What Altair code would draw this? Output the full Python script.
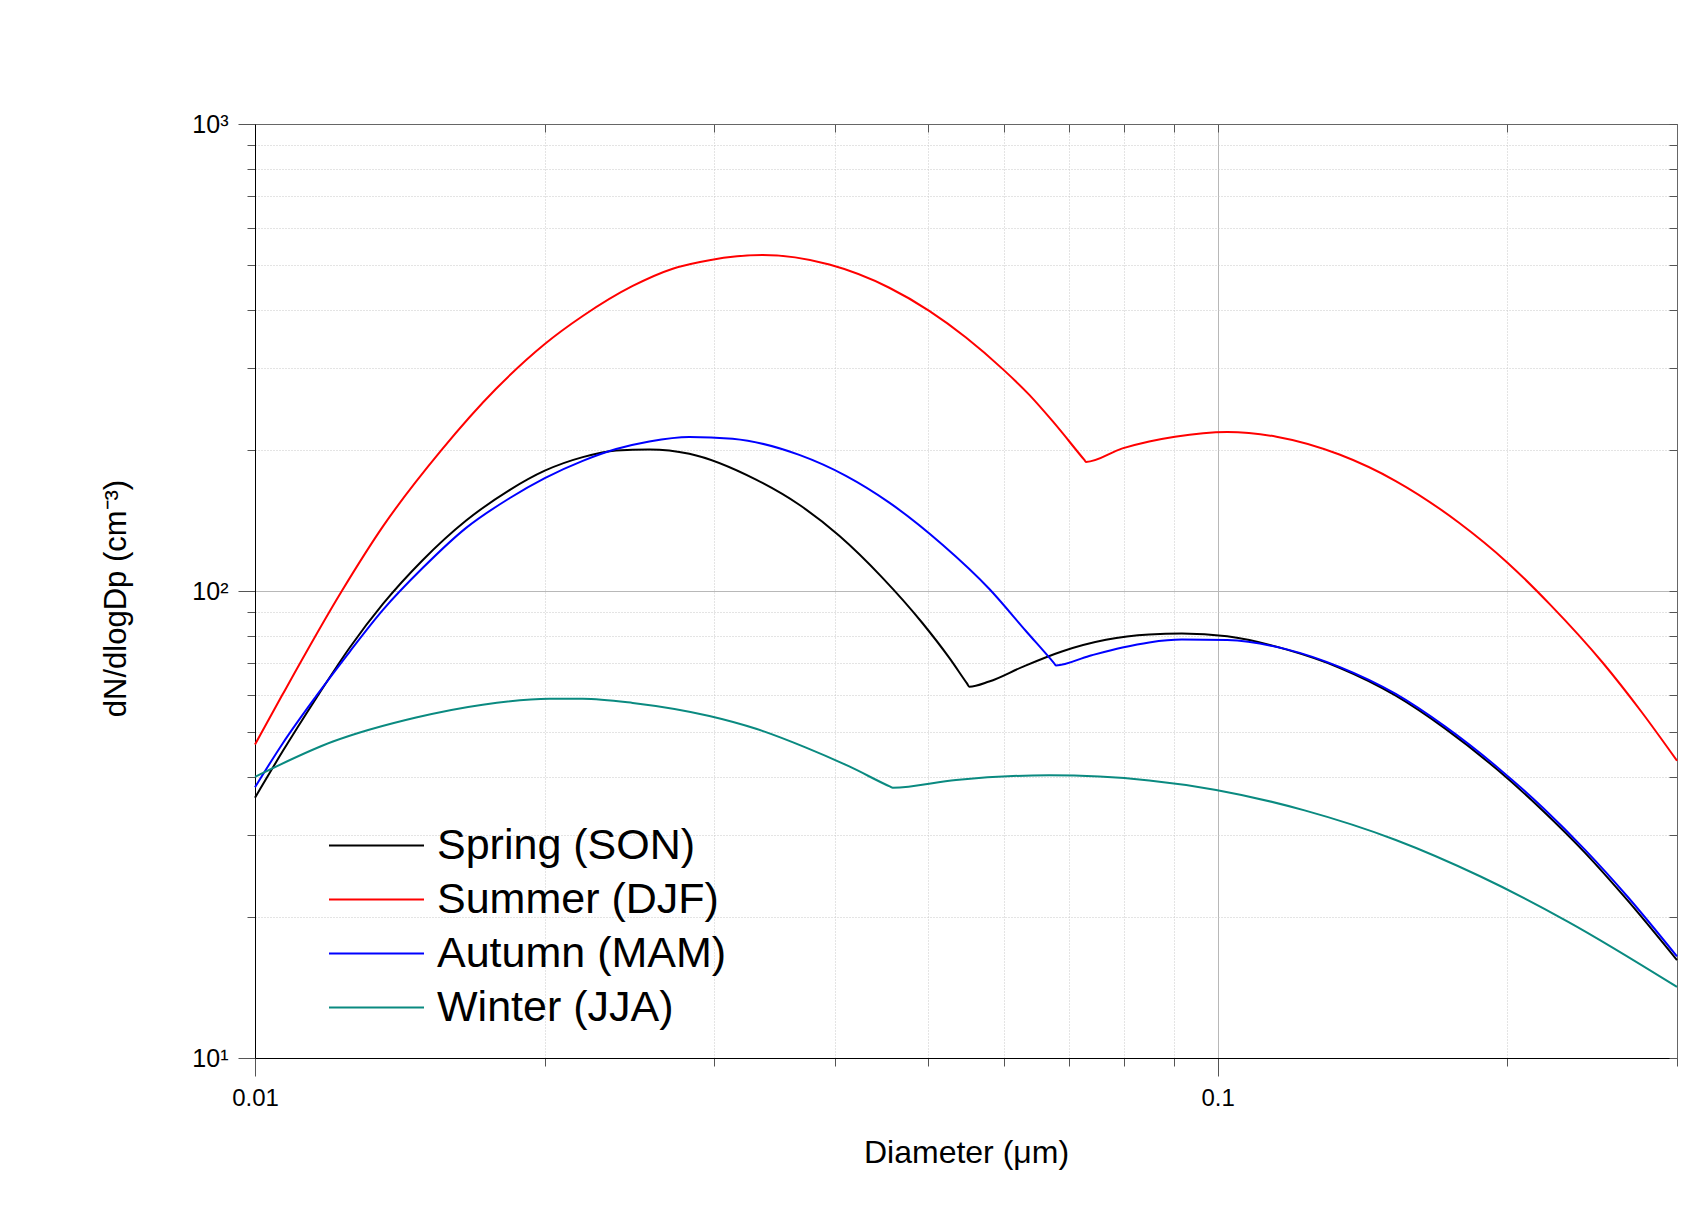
import altair as alt
import pandas as pd

FONT = "Liberation Sans"

seasons = ["Spring (SON)", "Summer (DJF)", "Autumn (MAM)", "Winter (JJA)"]
colors = ["#000000", "#ff0000", "#0000ff", "#0a8a80"]

spring_d = [0.0100, 0.01068, 0.01158, 0.01254, 0.01358, 0.01494, 0.01657, 0.01838, 0.0200, 0.0219,
            0.02372, 0.02568, 0.02826, 0.03315, 0.03676, 0.04045, 0.04486, 0.04937, 0.05263, 0.05490,
            0.05520, 0.05789, 0.06271, 0.06901, 0.07655, 0.08489, 0.09179, 0.1023, 0.1180, 0.1338,
            0.1531, 0.1722, 0.1953, 0.2178, 0.2408, 0.2663, 0.3000]
spring_n = [36.1, 45.3, 59.0, 75.6, 93.8, 116.5, 141.5, 164.5, 181.0, 193.5,
            200.0, 201.0, 196.8, 173.2, 153.0, 131.3, 106.7, 85.3, 71.9, 63.4,
            62.4, 64.0, 68.8, 74.3, 78.6, 80.7, 81.1, 80.0, 74.9, 68.5,
            59.7, 50.8, 41.4, 33.8, 27.5, 21.8, 16.2]

summer_d = [0.0100, 0.01068, 0.01229, 0.01358, 0.01561, 0.01780, 0.0200, 0.02190, 0.02468, 0.02716,
            0.02965, 0.03367, 0.03950, 0.04559, 0.05016, 0.05477, 0.05977, 0.06373, 0.06738, 0.07270,
            0.07298, 0.07963, 0.08489, 0.09028, 0.1023, 0.1151, 0.1338, 0.1531, 0.1781, 0.2000,
            0.2215, 0.2512, 0.2754, 0.3000]
summer_n = [46.9, 60.0, 99.5, 137.5, 200.0, 271.0, 338.0, 388.0, 450.0, 490.0,
            511.0, 524.0, 500.0, 446.0, 398.0, 349.0, 299.0, 263.0, 231.0, 190.8,
            189.0, 202.0, 209.0, 214.0, 219.0, 214.0, 196.0, 172.0, 140.0, 115.0,
            93.5, 70.2, 55.2, 43.3]

autumn_d = [0.0100, 0.01068, 0.01158, 0.01254, 0.01358, 0.01494, 0.01657, 0.01838, 0.0200, 0.0219,
            0.02372, 0.02568, 0.02826, 0.03134, 0.03676, 0.04110, 0.04559, 0.05178, 0.05789, 0.06321,
            0.06760, 0.06792, 0.07354, 0.07963, 0.08489, 0.09179, 0.1023, 0.1180, 0.1338, 0.1531,
            0.1722, 0.1953, 0.2178, 0.2408, 0.2663, 0.3000]
autumn_n = [38.0, 47.1, 59.6, 74.1, 91.1, 112.1, 136.5, 158.0, 174.5, 190.0,
            201.4, 209.1, 213.8, 211.8, 195.6, 176.4, 154.6, 125.6, 101.1, 82.1,
            70.1, 69.3, 72.6, 75.7, 77.6, 78.7, 78.5, 75.0, 68.8, 60.2,
            51.3, 41.9, 34.3, 27.9, 22.2, 16.5]

winter_d = [0.0100, 0.01205, 0.01470, 0.01724, 0.02022, 0.0219, 0.02468, 0.02965, 0.03315, 0.03736,
            0.04143, 0.04570, 0.04596, 0.05348, 0.06683, 0.08489, 0.09963, 0.1231, 0.1531, 0.1873,
            0.2310, 0.3000]
winter_n = [40.0, 47.6, 53.6, 57.1, 58.8, 58.8, 57.6, 54.0, 50.7, 46.2,
            42.1, 38.1, 37.9, 39.4, 40.3, 39.3, 37.5, 33.9, 29.3, 24.5,
            19.6, 14.2]

x_major = [0.01, 0.1]
x_minor = [0.02, 0.03, 0.04, 0.05, 0.06, 0.07, 0.08, 0.09, 0.2, 0.3]
y_major = [10, 100, 1000]
y_minor = [20, 30, 40, 50, 60, 70, 80, 90, 200, 300, 400, 500, 600, 700, 800, 900]

rows = []
for name, ds, ns in zip(seasons, [spring_d, summer_d, autumn_d, winter_d],
                        [spring_n, summer_n, autumn_n, winter_n]):
    for i, (d, n) in enumerate(zip(ds, ns)):
        rows.append({"Season": name, "D": d, "N": n, "idx": i})
df = pd.DataFrame(rows)

xscale = alt.Scale(type="log", domain=[0.01, 0.3], nice=False)
yscale = alt.Scale(type="log", domain=[10, 1000], nice=False)

x_bottom = alt.Axis(
    values=x_major + x_minor,
    labelExpr="datum.value == 0.01 ? '0.01' : (datum.value == 0.1 ? '0.1' : '')",
    tickSize=alt.ExprRef("(datum.value == 0.01 || datum.value == 0.1) ? 18 : 8"),
    tickColor="#555555",
    domainColor="#000000",
    labelFont=FONT, labelFontSize=24, labelColor="#000000", labelPadding=10,
    labelFlush=False, labelOverlap=False,
    grid=True,
    gridDash=alt.ExprRef("datum.value == 0.1 ? [] : [1, 2]"),
    gridColor=alt.ExprRef("datum.value == 0.1 ? '#b8b8b8' : '#c8c8c8'"),
    gridWidth=1,
    titleFont=FONT, titleFontSize=32, titleFontWeight="normal", titleColor="#000000",
    titleX=711, titleY=79,
)

y_left = alt.Axis(
    values=y_major + y_minor,
    labelExpr="datum.value == 10 ? '10¹' : (datum.value == 100 ? '10²' : (datum.value == 1000 ? '10³' : ''))",
    tickSize=alt.ExprRef("(datum.value == 10 || datum.value == 100 || datum.value == 1000) ? 17 : 8"),
    tickColor="#555555",
    domainColor="#000000",
    labelFont=FONT, labelFontSize=25, labelColor="#000000", labelPadding=10,
    labelFlush=False, labelOverlap=False,
    grid=True,
    gridDash=alt.ExprRef("datum.value == 100 ? [] : [1, 2]"),
    gridColor=alt.ExprRef("datum.value == 100 ? '#b8b8b8' : '#c8c8c8'"),
    gridWidth=1,
    titleFont=FONT, titleFontSize=31, titleFontWeight="normal", titleColor="#000000",
    titleX=-123, titleY=474,
)

x_top = alt.Axis(
    orient="top", values=x_major + x_minor, labels=False, title=None, grid=False,
    tickSize=alt.ExprRef("-8"), tickColor="#555555", domainColor="#666666",
)
y_right = alt.Axis(
    orient="right", values=y_major + y_minor, labels=False, title=None, grid=False,
    tickSize=alt.ExprRef("-8"), tickColor="#555555", domainColor="#666666",
)

legend = alt.Legend(
    orient="none", legendX=73, legendY=700, title=None,
    symbolType="stroke", symbolSize=9025, symbolStrokeWidth=2, symbolOffset=0,
    labelFont=FONT, labelFontSize=43, labelColor="#000000", labelLimit=0, labelOffset=12,
    clipHeight=43, rowPadding=10, padding=0,
)

frame = alt.Chart(df).mark_line(opacity=0).encode(
    x=alt.X("D:Q", scale=xscale, axis=x_top),
    y=alt.Y("N:Q", scale=yscale, axis=y_right),
    detail="Season:N",
)

lines = alt.Chart(df).mark_line(strokeWidth=2, interpolate="monotone").encode(
    x=alt.X("D:Q", scale=xscale, axis=x_bottom, title="Diameter (μm)"),
    y=alt.Y("N:Q", scale=yscale, axis=y_left, title="dN/dlogDp (cm⁻³)"),
    color=alt.Color("Season:N", scale=alt.Scale(domain=seasons, range=colors), legend=legend),
    order=alt.Order("idx:Q"),
)

chart = (
    alt.layer(frame, lines)
    .resolve_axis(x="independent", y="independent")
    .properties(
        width=1422, height=934,
        autosize=alt.AutoSizeParams(type="none"),
        padding={"left": 255, "top": 124, "right": 22, "bottom": 161},
        background="white",
    )
    .configure_view(stroke=None)
)

chart.save("out.html", embed_options={"renderer": "svg", "actions": False})
